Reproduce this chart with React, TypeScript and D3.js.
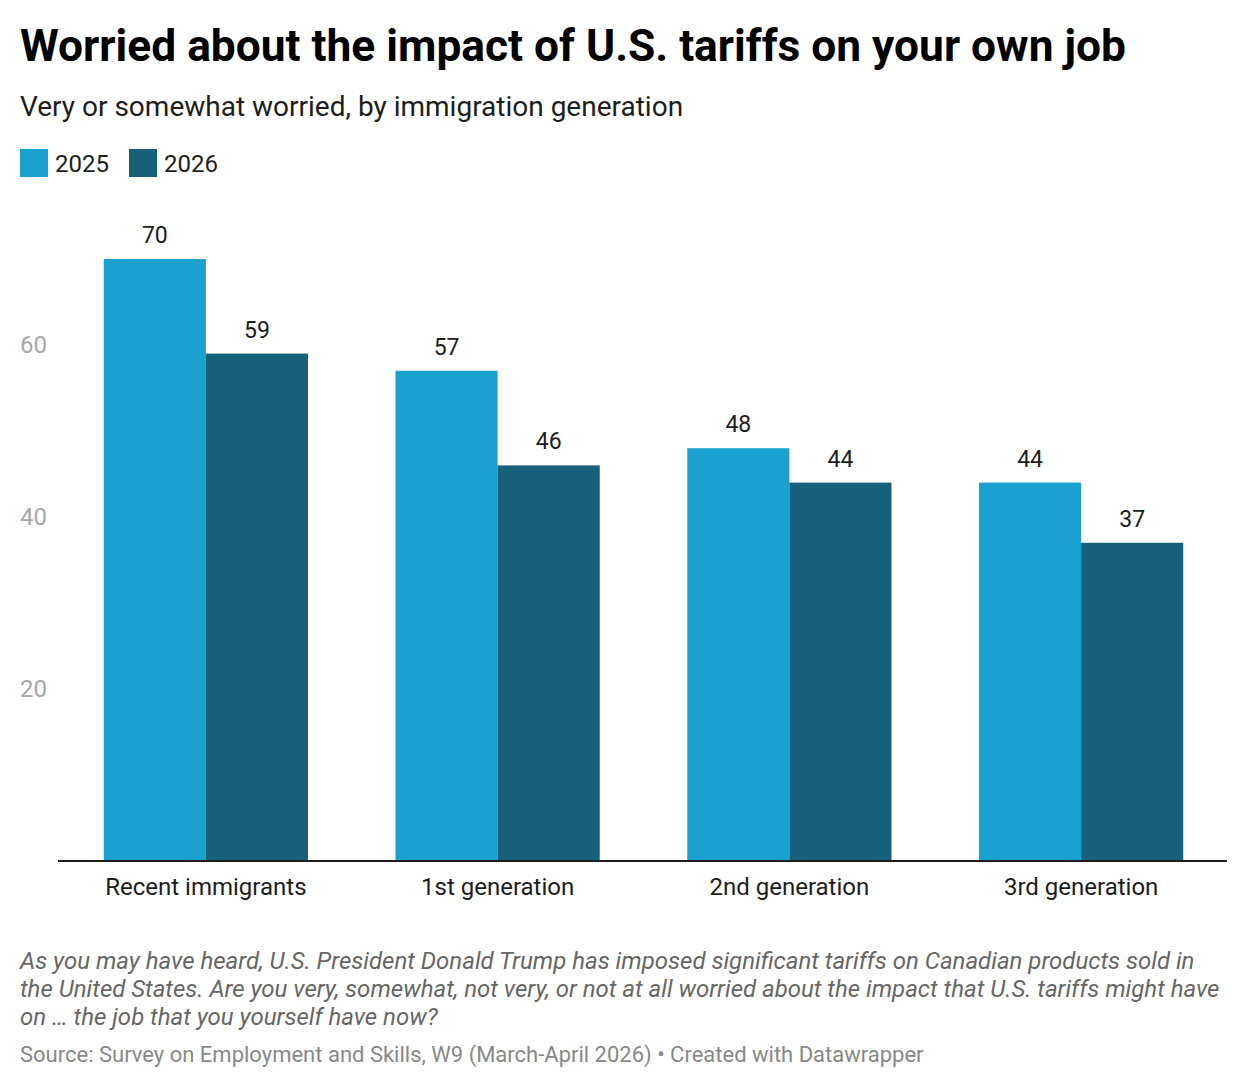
import * as d3 from "d3";
import React from "react";

const categories = ["Recent immigrants", "1st generation", "2nd generation", "3rd generation"];
const years = ["2025", "2026"];
const values2025 = [70, 57, 48, 44];
const values2026 = [59, 46, 44, 37];
const yTicks = [20, 40, 60];
const colors = ["#1aa1cf", "#16607a"];

const noteLines = [
  "As you may have heard, U.S. President Donald Trump has imposed significant tariffs on Canadian products sold in",
  "the United States. Are you very, somewhat, not very, or not at all worried about the impact that U.S. tariffs might have",
  "on \u2026 the job that you yourself have now?",
];
const source = "Source: Survey on Employment and Skills, W9 (March-April 2026) \u2022 Created with Datawrapper";

const width = 1247;
const height = 1088;
const font = "Roboto, sans-serif";

export default function App() {
  const x0 = d3.scaleBand().domain(categories).range([60, 1227]).paddingInner(0.3).paddingOuter(0.15);
  const x1 = d3.scaleBand().domain(years).range([0, x0.bandwidth()]);
  const y = d3.scaleLinear().domain([0, 70]).range([861, 259]);
  const series = [values2025, values2026];

  return (
    <svg
      width={width}
      height={height}
      style={{ position: "absolute", left: 0, top: 0, background: "#fff" }}
      fontFamily={font}
    >
      <text x={20} y={61} fontSize={44.3} fontWeight={700} fill="#000">
        Worried about the impact of U.S. tariffs on your own job
      </text>
      <text x={20} y={116} fontSize={28} fill="#1d1d1d">
        Very or somewhat worried, by immigration generation
      </text>

      {years.map((yr, i) => (
        <g key={yr} transform={`translate(${20 + i * 109},149)`}>
          <rect width={28} height={28} fill={colors[i]} />
          <text x={35} y={23} fontSize={24} fill="#1d1d1d">{yr}</text>
        </g>
      ))}

      {yTicks.map((t) => (
        <text key={t} x={47} y={y(t) + 8} fontSize={24} fill="#a8a8a8" textAnchor="end">
          {t}
        </text>
      ))}

      {categories.map((c, ci) => (
        <g key={c} transform={`translate(${x0(c)},0)`}>
          {years.map((yr, si) => {
            const v = series[si][ci];
            return (
              <g key={yr}>
                <rect
                  x={x1(yr)}
                  y={y(v)}
                  width={x1.bandwidth()}
                  height={y(0) - y(v)}
                  fill={colors[si]}
                />
                <text
                  x={(x1(yr) ?? 0) + x1.bandwidth() / 2}
                  y={y(v) - 16}
                  fontSize={23}
                  fill="#1d1d1d"
                  textAnchor="middle"
                >
                  {v}
                </text>
              </g>
            );
          })}
          <text x={x0.bandwidth() / 2} y={895} fontSize={24} fill="#1d1d1d" textAnchor="middle">
            {c}
          </text>
        </g>
      ))}

      <line x1={58} x2={1227} y1={y(0)} y2={y(0)} stroke="#1d1d1d" strokeWidth={2} />

      {noteLines.map((l, i) => (
        <text key={i} x={20} y={969 + i * 28} fontSize={24} fontStyle="italic" fill="#666">
          {l}
        </text>
      ))}
      <text x={20} y={1062} fontSize={22} fill="#888">
        {source}
      </text>
    </svg>
  );
}
